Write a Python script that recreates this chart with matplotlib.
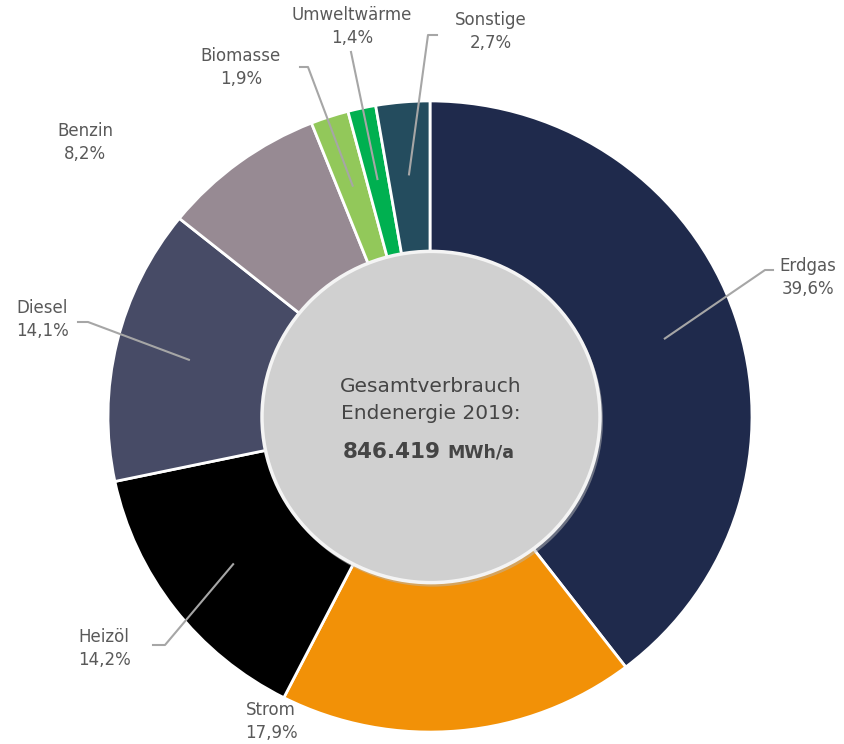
import numpy as np
import matplotlib.pyplot as plt
from matplotlib.patches import Circle

# Daten
kategorien = ['Erdgas', 'Strom', 'Heizöl', 'Diesel', 'Benzin', 'Biomasse', 'Umweltwärme', 'Sonstige']
anteile = [39.6, 17.9, 14.2, 14.1, 8.2, 1.9, 1.4, 2.7]
farben = ['#1F2A4C', '#F29107', '#000000', '#474B66', '#978A93', '#92C85A', '#00B050', '#244C5E']
gesamt_text = '846.419'
einheit = 'MWh/a'

W, H = 844, 744
S = 0.98  # Diagramm ist im Original leicht gestaucht (vertikal)
fig = plt.figure(figsize=(W / 100, H / 100), dpi=100)
ax = fig.add_axes([0, 0, 1, 1])

def py(y):
    # Pixel-y von oben -> Datenkoordinate
    return (H - y) / S

cx, cy, R = 430, py(416.5), 322
wedges, _ = ax.pie(anteile, colors=farben, startangle=90, counterclock=False,
                   center=(cx, cy), radius=R, frame=True,
                   wedgeprops=dict(edgecolor='white', linewidth=2))
ax.set_xlim(0, W)
ax.set_ylim(0, H / S)
ax.set_aspect('auto')
ax.axis('off')

# Innerer Kreis mit leichtem Schatten
ax.add_patch(Circle((433, py(420)), 170, facecolor='#B8B8B8', edgecolor='none', alpha=0.5, zorder=3))
ax.add_patch(Circle((431, py(417)), 169, facecolor='#D0D0D0', edgecolor='#F4F4F4', linewidth=2.5, zorder=4))

txt = '#454545'
ax.text(431, py(386), 'Gesamtverbrauch', ha='center', va='center', fontsize=14.5, color=txt, zorder=5)
ax.text(431, py(414), 'Endenergie 2019:', ha='center', va='center', fontsize=14.5, color=txt, zorder=5)
ax.text(441, py(452), gesamt_text, ha='right', va='center', fontsize=15.5, fontweight='bold', color=txt, zorder=5)
ax.text(447, py(453), einheit, ha='left', va='center', fontsize=12.5, fontweight='bold', color=txt, zorder=5)

# Beschriftungen: Textmitte und Knickpunkte der Führungslinien (Pixel)
label_pos = {
    'Erdgas': (808, 266),
    'Strom': (271, 710),
    'Heizöl': (104, 637),
    'Diesel': (42, 308),
    'Benzin': (85, 131),
    'Biomasse': (241, 56),
    'Umweltwärme': (352, 15),
    'Sonstige': (491, 20),
}
leader = {
    'Erdgas': [(765, 270), (773, 270)],
    'Heizöl': [(165, 645), (153, 645)],
    'Diesel': [(88, 322), (78, 322)],
    'Biomasse': [(308, 67), (300, 67)],
    'Umweltwärme': [(351, 52)],
    'Sonstige': [(428, 35), (437, 35)],
}

start = 90.0
for name, wert in zip(kategorien, anteile):
    mitte = np.deg2rad(start - wert * 3.6 / 2)
    start -= wert * 3.6
    lx, ly = label_pos[name]
    ax.text(lx, py(ly), name, ha='center', va='center', fontsize=12, color='#595959', zorder=6)
    ax.text(lx, py(ly + 23), f'{wert:.1f}'.replace('.', ',') + '%', ha='center', va='center',
            fontsize=12, color='#595959', zorder=6)
    if name in leader:
        ax_x = cx + 0.77 * R * np.cos(mitte)
        ax_y = cy + 0.77 * R * np.sin(mitte)
        xs = [ax_x] + [p[0] for p in leader[name]]
        ys = [ax_y] + [py(p[1]) for p in leader[name]]
        ax.plot(xs, ys, color='#A6A6A6', linewidth=1.5, zorder=6)

fig.savefig('out.png', dpi=100)
